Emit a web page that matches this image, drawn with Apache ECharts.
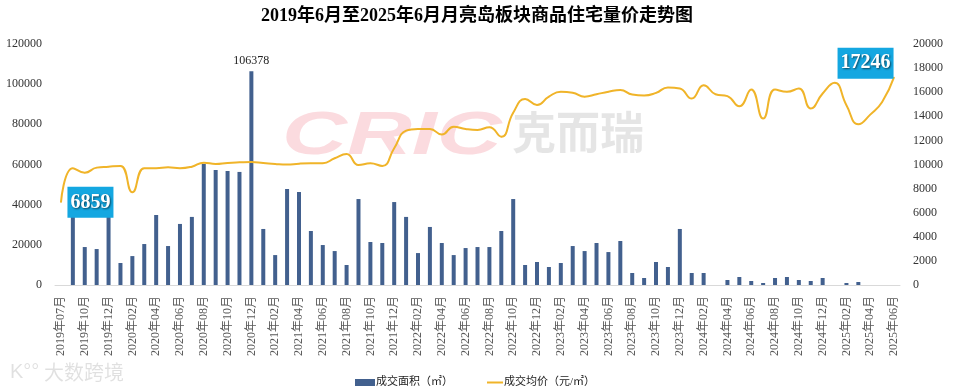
<!DOCTYPE html>
<html><head><meta charset="utf-8">
<script src="https://cdn.jsdelivr.net/npm/echarts@6/dist/echarts.min.js"></script>
<style>html,body{margin:0;padding:0;background:#fff}#c{width:954px;height:392px}</style>
</head><body><div id="c"></div>
<script>
const titleText = '2019年6月至2025年6月月亮岛板块商品住宅量价走势图';
const seriesNames = ['成交面积（㎡）', '成交均价（元/㎡）'];
const months = [
 '2019年07月','2019年08月','2019年10月','2019年11月','2019年12月',
 '2020年01月','2020年02月','2020年03月','2020年04月','2020年05月','2020年06月','2020年07月','2020年08月','2020年09月','2020年10月','2020年11月','2020年12月',
 '2021年01月','2021年02月','2021年03月','2021年04月','2021年05月','2021年06月','2021年07月','2021年08月','2021年09月','2021年10月','2021年11月','2021年12月',
 '2022年01月','2022年02月','2022年03月','2022年04月','2022年05月','2022年06月','2022年07月','2022年08月','2022年09月','2022年10月','2022年11月','2022年12月',
 '2023年01月','2023年02月','2023年03月','2023年04月','2023年05月','2023年06月','2023年07月','2023年08月','2023年09月','2023年10月','2023年11月','2023年12月',
 '2024年01月','2024年02月','2024年03月','2024年04月','2024年05月','2024年06月','2024年07月','2024年08月','2024年09月','2024年10月','2024年11月','2024年12月',
 '2025年01月','2025年02月','2025年03月','2025年04月','2025年05月','2025年06月'
];
const area = [
 0, 38000, 18900, 17900, 36000,
 10950, 14400, 20400, 34860, 19400, 30400, 33900, 60250, 57270, 56770, 56300, 106378,
 27900, 14900, 47800, 46300, 26900, 19900, 16900, 9960, 42800, 21400, 20900, 41300,
 33900, 15900, 28900, 20900, 14900, 18400, 18900, 18900, 26900, 42800, 9960, 11450,
 8960, 10950, 19400, 16900, 20900, 16400, 21900, 5980, 3490, 11450, 8960, 27900,
 5980, 5980, 0, 2490, 3980, 1990, 1000, 3490, 3980, 2490, 1990, 3490,
 0, 1000, 1500, 0, 0, 0
];
const price = [
 6859, 9690, 9320, 9740, 9820,
 9880, 7690, 9690, 9690, 9770, 9690, 9820, 10150, 10040, 10130, 10180, 10210,
 10130, 10040, 9990, 10070, 10100, 10100, 10520, 10870, 9960, 10100, 9880, 11350,
 12810, 12950, 12950, 12480, 13140, 12950, 12870, 13090, 12310, 14300, 15440, 14940,
 15630, 16040, 15960, 15630, 15830, 16040, 16190, 15800, 15720, 15940, 16390, 16300,
 15470, 16580, 15830, 15670, 14830, 16220, 13810, 16220, 16030, 16300, 14640, 15890,
 16780, 14920, 13330, 14140, 15190, 17246
];
const leftAxis = {min: 0, max: 120000, interval: 20000};
const rightAxis = {min: 0, max: 20000, interval: 2000};

const SERIF = '"Liberation Serif","Noto Sans CJK SC",serif';
const BAR = '#42608E', LINE = '#F0B429', BOX = '#14A7E1';
const boxLabel = {
  show: true, color: '#fff', fontSize: 20, fontWeight: 'bold', fontFamily: SERIF,
  backgroundColor: BOX, padding: [6, 3, 5, 3],
  textShadowColor: 'rgba(0,0,0,0.6)', textShadowBlur: 2, textShadowOffsetX: 1, textShadowOffsetY: 1
};
const areaData = area.map((v, i) => {
  if (v === Math.max(...area)) return {value: v, label: {show: true, position: 'top', color: '#222', fontSize: 12, fontFamily: SERIF}};
  return v;
});
const priceData = price.map((v, i) => {
  if (i === 0) return {value: v, label: Object.assign({}, boxLabel, {position: 'right', distance: 6})};
  if (i === price.length - 1) return {value: v, label: Object.assign({}, boxLabel, {position: 'left', distance: 0, offset: [0, -14]})};
  return v;
});
const plain = v => String(v);

const chart = echarts.init(document.getElementById('c'));
chart.setOption({
  animation: false,
  backgroundColor: '#fff',
  title: {text: titleText, left: 'center', top: 2, textStyle: {fontSize: 18, fontWeight: 'bold', color: '#000', fontFamily: SERIF}},
  graphic: [
    {type: 'text', z: 0, left: 282, top: 106, scaleX: 1.45, style: {text: 'CRIC', fontSize: 62, fontWeight: 900, fontStyle: 'italic', fontFamily: '"Liberation Sans",sans-serif', fill: 'rgba(235,90,110,0.22)'}},
    {type: 'text', z: 0, left: 512, top: 110, style: {text: '克而瑞', fontSize: 44, fontWeight: 'bold', fontFamily: '"Noto Sans CJK SC",sans-serif', fill: 'rgba(0,0,0,0.1)'}},
    {type: 'text', z: 0, left: 10, top: 362, style: {text: 'K°°', fontSize: 20, fontFamily: '"Liberation Sans",sans-serif', fill: 'rgba(0,0,0,0.12)'}},
    {type: 'text', z: 0, left: 44, top: 362, style: {text: '大数跨境', fontSize: 20, fontFamily: '"Noto Sans CJK SC",sans-serif', fill: 'rgba(0,0,0,0.12)'}}
  ],
  legend: [
    {data: [{name: seriesNames[0], icon: 'rect'}], left: 350, top: 372, itemWidth: 20, itemHeight: 7, itemGap: 0,
     textStyle: {fontSize: 11, color: '#222', fontFamily: SERIF, padding: [0, 0, 0, -4]}},
    {data: [{name: seriesNames[1], icon: 'rect'}], left: 482, top: 372, itemWidth: 16, itemHeight: 2, itemGap: 0,
     textStyle: {fontSize: 11, color: '#222', fontFamily: SERIF, padding: [0, 0, 0, -4]}}
  ],
  grid: {left: 55, right: 54, top: 44, bottom: 107, containLabel: false},
  xAxis: {
    type: 'category', data: months, boundaryGap: true,
    axisLine: {lineStyle: {color: '#D9D9D9'}}, axisTick: {show: false},
    axisLabel: {interval: 1, rotate: 90, fontSize: 12, color: '#595959', fontFamily: SERIF, margin: 11}
  },
  yAxis: [
    {type: 'value', min: leftAxis.min, max: leftAxis.max, interval: leftAxis.interval,
     splitLine: {show: false}, axisLine: {show: false}, axisTick: {show: false},
     axisLabel: {fontSize: 12, color: '#333', fontFamily: SERIF, margin: 13, formatter: plain}},
    {type: 'value', min: rightAxis.min, max: rightAxis.max, interval: rightAxis.interval,
     splitLine: {show: false}, axisLine: {show: false}, axisTick: {show: false},
     axisLabel: {fontSize: 12, color: '#333', fontFamily: SERIF, margin: 13, formatter: plain}}
  ],
  series: [
    {name: seriesNames[0], type: 'bar', data: areaData, yAxisIndex: 0, barWidth: 4, itemStyle: {color: BAR}, z: 2},
    {name: seriesNames[1], type: 'line', data: priceData, yAxisIndex: 1, smooth: 0.5,
     symbol: 'circle', symbolSize: 1, showSymbol: true, showAllSymbol: true,
     lineStyle: {color: LINE, width: 2}, itemStyle: {color: LINE}, z: 3}
  ]
});
</script></body></html>
